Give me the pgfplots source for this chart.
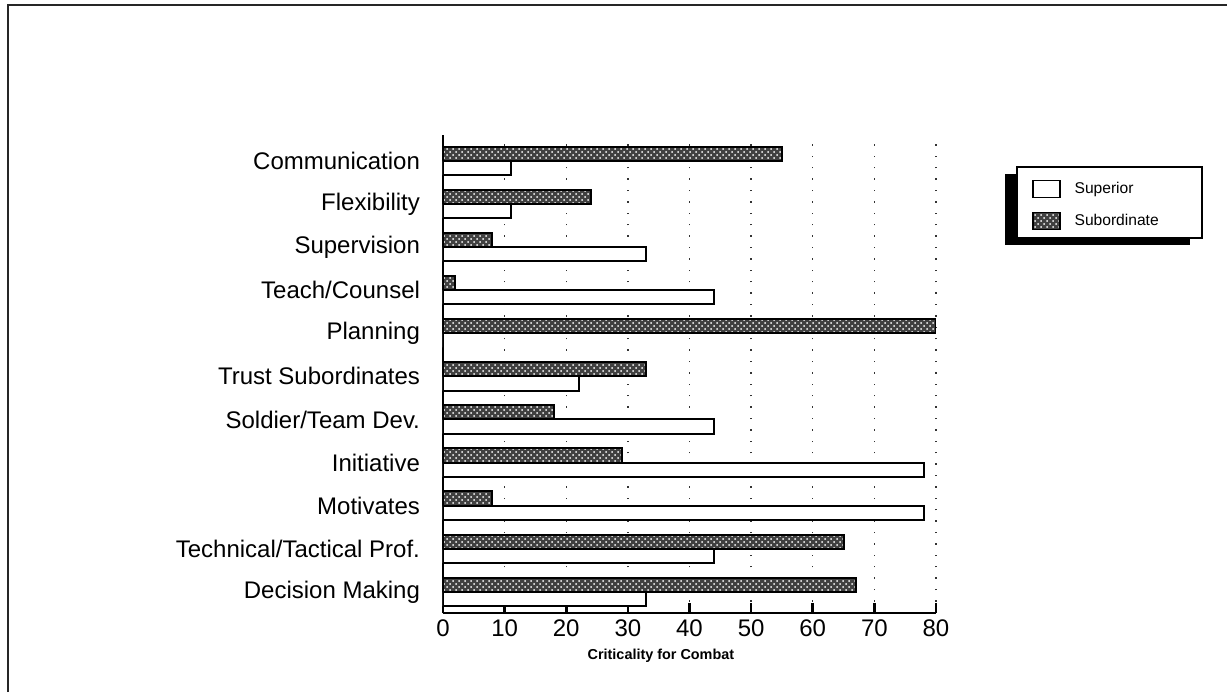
\documentclass[border=0pt]{standalone}
\usepackage{pgfplots}
\pgfplotsset{compat=1.18}
\usepackage{fontspec}
\setmainfont{Liberation Sans}
\usetikzlibrary{patterns}

\begin{document}
\begin{tikzpicture}
\useasboundingbox (0,0) rectangle (613.5pt,346pt);
\draw[line width=0.8pt, black!85] (4pt,0) -- (4pt,343.5pt) -- (613.5pt,343.5pt);
% legend frame with shadow
\fill[black] (502.5pt,223.5pt) rectangle (595pt,259pt);
\draw[line width=0.6pt, fill=white] (508.5pt,227pt) rectangle (601pt,262.5pt);
\begin{axis}[
  at={(221.5pt,39.5pt)}, anchor=south west,
  scale only axis, width=246.5pt, height=239pt,
  xbar,
  xmin=0, xmax=80, ymin=-0.49, ymax=10.6,
  axis x line*=bottom, axis y line*=left,
  axis line style={line width=1.3pt, -},
  /pgf/number format/assume math mode=true,
  xtick={0,10,...,80}, ytick={0,...,10},
  yticklabels={Decision Making, Technical/Tactical Prof., Motivates, Initiative, Soldier/Team Dev., Trust Subordinates, Planning, Teach/Counsel, Supervision, Flexibility, Communication},
  tick align=inside,
  major tick length=5pt,
  xtick style={line width=1.3pt, black},
  ytick style={draw=none},
  xticklabel style={font=\fontsize{12}{14}\selectfont},
  yticklabel style={font=\fontsize{12}{14}\selectfont, xshift=-8pt},
  xmajorgrids,
  grid style={black!80, line width=0.7pt, dash pattern=on 0.7pt off 5pt},
  xlabel={Criticality for Combat},
  xlabel style={font=\fontsize{7.2}{9}\selectfont\bfseries, at={(axis description cs:0.442,0)}, anchor=center, yshift=-21.5pt},
  legend style={at={(rel axis cs:1.1826,0.9194)}, anchor=north west, draw=none, fill=none,
    font=\fontsize{7.8}{9}\selectfont, inner xsep=3pt, inner ysep=2pt, row sep=5pt, column sep=5pt},
  legend cell align=left,
  legend image code/.code={\draw[#1, line width=0.6pt] (0pt,-4.25pt) rectangle (13.5pt,4.25pt);},
]
\addplot[bar width=0.33, bar shift=-0.165, fill=white, draw=black, line width=1pt]
  coordinates {(33,0) (44,1) (78,2) (78,3) (44,4) (22,5) (0,6) (44,7) (33,8) (11,9) (11,10)};
\addplot[bar width=0.33, bar shift=0.165, draw=black, line width=1pt, fill=black!75,
  postaction={pattern=crosshatch dots, pattern color=white}]
  coordinates {(67,0) (65,1) (8,2) (29,3) (18,4) (33,5) (80,6) (2,7) (8,8) (24,9) (55,10)};
\legend{Superior, Subordinate}
\end{axis}
\end{tikzpicture}
\end{document}
